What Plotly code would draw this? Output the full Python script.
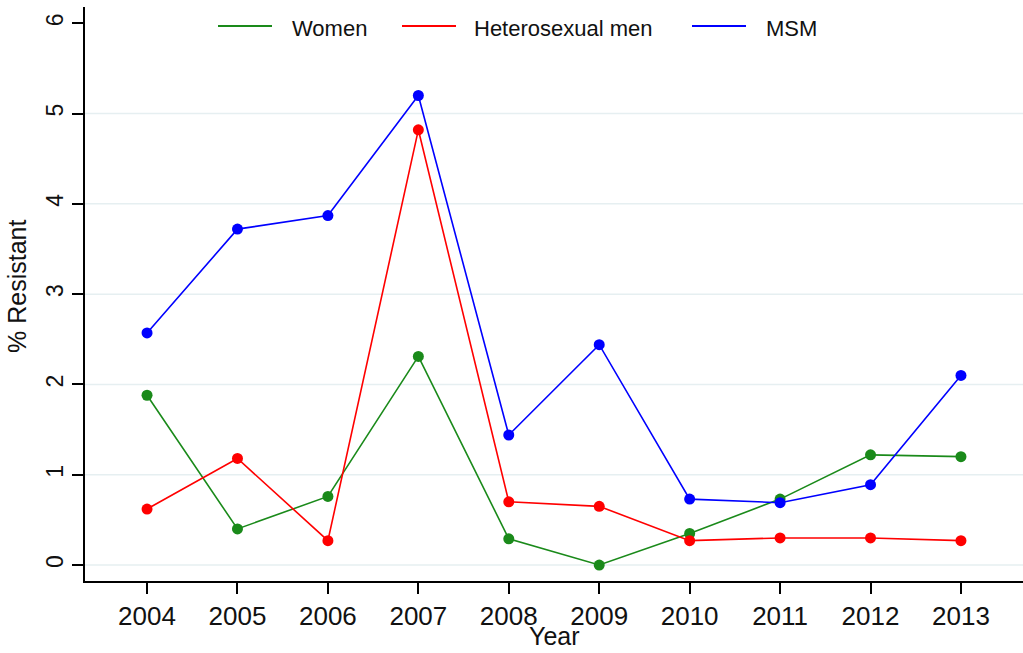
import plotly.graph_objects as go

years = [2004, 2005, 2006, 2007, 2008, 2009, 2010, 2011, 2012, 2013]
women = [1.88, 0.40, 0.76, 2.31, 0.29, 0.00, 0.35, 0.73, 1.22, 1.20]
hetero_men = [0.62, 1.18, 0.27, 4.82, 0.70, 0.65, 0.27, 0.30, 0.30, 0.27]
msm = [2.57, 3.72, 3.87, 5.20, 1.44, 2.44, 0.73, 0.69, 0.89, 2.10]

series_names = ["Women", "Heterosexual men", "MSM"]
series_colors = ["#1a8a1a", "#ff0000", "#0000ff"]
y_ticks = [0, 1, 2, 3, 4, 5, 6]
grid_values = [0, 1, 2, 3, 4, 5]

FONT = "Liberation Sans, Arial, sans-serif"

fig = go.Figure()
for name, vals, col in zip(series_names, [women, hetero_men, msm], series_colors):
    fig.add_trace(go.Scatter(
        x=years, y=vals, name=name, mode="lines+markers",
        line=dict(color=col, width=1.6),
        marker=dict(color=col, size=11, symbol="circle"),
        showlegend=False,
    ))

# gridlines (excluding top tick)
for g in grid_values:
    fig.add_shape(type="line", xref="paper", yref="y", x0=0, x1=1, y0=g, y1=g,
                  line=dict(color="#e6eff1", width=1.5), layer="below")

# manual legend
W, H = 1023, 653
L, R, T, B = 85, 0, 7, 72
pw, ph = W - L - R, H - T - B

def px(xp):
    return (xp - L) / pw

def py(yp):
    return (H - B - yp) / ph

legend_lines = [(218, 272), (402, 456), (692, 746)]
legend_text_x = [290, 472, 764]
for name, col, (a, b), tx in zip(series_names, series_colors, legend_lines, legend_text_x):
    fig.add_shape(type="line", xref="paper", yref="paper", x0=px(a), x1=px(b),
                  y0=py(26), y1=py(26), line=dict(color=col, width=2))
    fig.add_annotation(xref="paper", yref="paper", x=px(tx), y=py(28),
                       xanchor="left", yanchor="middle", text=name, showarrow=False,
                       font=dict(family=FONT, size=22, color="#111111"))

# axis titles
fig.add_annotation(xref="paper", yref="paper", x=0.5, y=0, yshift=-(636 - (H - B)),
                   xanchor="center", yanchor="middle", text="Year", showarrow=False,
                   font=dict(family=FONT, size=25, color="#111111"))
fig.add_annotation(xref="paper", yref="paper", x=0, y=py(287), xshift=-(L - 17),
                   xanchor="center", yanchor="middle", text="% Resistant", textangle=-90,
                   showarrow=False, font=dict(family=FONT, size=25, color="#111111"))

fig.update_layout(
    width=W, height=H,
    margin=dict(l=L, r=R, t=T, b=B, pad=0),
    paper_bgcolor="white", plot_bgcolor="white",
    showlegend=False,
    font=dict(family=FONT, color="#111111"),
)
fig.update_xaxes(
    range=[2003.314, 2013.686], tickvals=years, ticktext=[str(y) for y in years],
    showline=True, linecolor="black", linewidth=2, mirror=False,
    ticks="outside", ticklen=11, tickwidth=1.5, tickcolor="black",
    showgrid=False, zeroline=False,
    tickfont=dict(family=FONT, size=26, color="#111111"),
)
fig.update_yaxes(
    range=[-0.177, 6.18], tickvals=y_ticks, ticktext=[str(v) for v in y_ticks],
    showline=True, linecolor="black", linewidth=2, mirror=False,
    ticks="outside", ticklen=11, tickwidth=1.5, tickcolor="black",
    showgrid=False, zeroline=False, tickangle=-90,
    tickfont=dict(family=FONT, size=23, color="#111111"),
)

fig.write_html("out.html", config={"displayModeBar": False},
               post_script="document.body.style.margin='0';")
